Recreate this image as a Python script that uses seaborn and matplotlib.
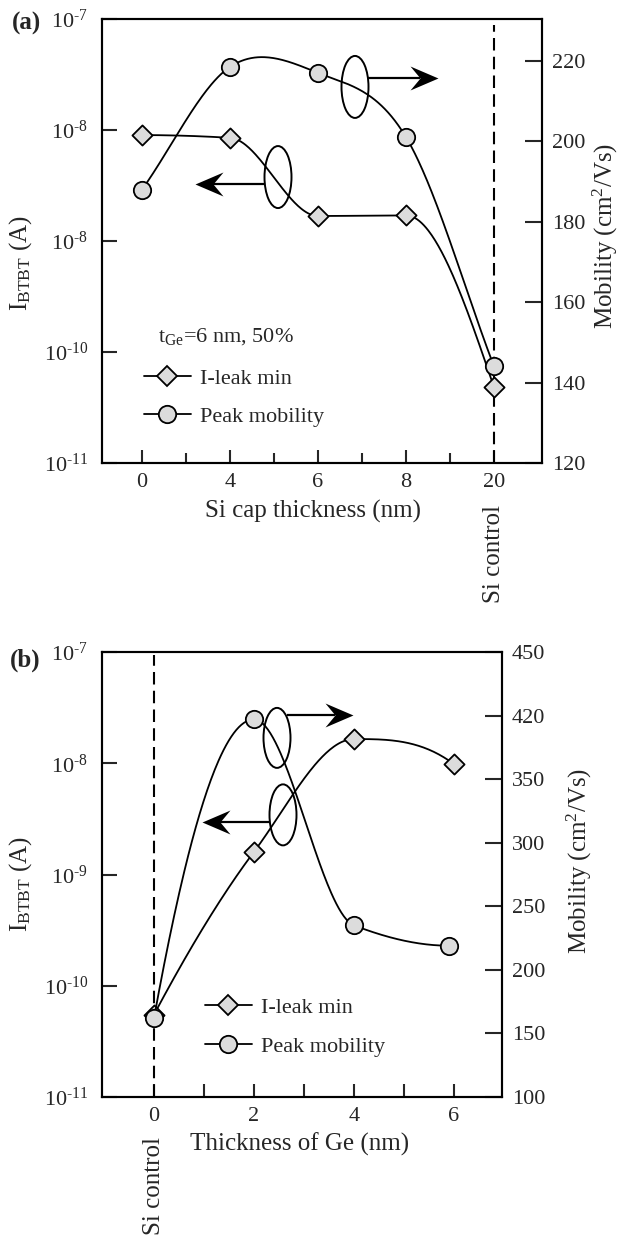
import numpy as np
import matplotlib
matplotlib.use('Agg')
import matplotlib.pyplot as plt
import matplotlib.transforms as mtransforms
import seaborn as sns
from matplotlib.patches import Ellipse
from matplotlib.lines import Line2D
from matplotlib.path import Path
from matplotlib.ticker import NullLocator

# panel (a): Si cap thickness
cap_labels = ['0', '4', '6', '8', '20']
cap_leak = [9.0e-9, 8.5e-9, 1.68e-9, 1.7e-9, 4.8e-11]
cap_mob = [188, 218.5, 217, 201, 144]

# panel (b): Ge thickness
ge_leak_x = [0, 2, 4, 6]
ge_leak = [5.5e-11, 1.6e-9, 1.65e-8, 9.8e-9]
ge_mob_x = [0, 2, 4, 5.9]
ge_mob = [162, 397, 235, 219]

leak_ticks = [1e-7, 1e-8, 1e-9, 1e-10, 1e-11]
leak_labels_a = ['7', '8', '8', '10', '11']
leak_labels_b = ['7', '8', '9', '10', '11']
mob_ticks_a = [120, 140, 160, 180, 200, 220]
mob_ticks_b = [100, 150, 200, 250, 300, 350, 400, 450]
mob_labels_b = ['100', '150', '200', '250', '300', '350', '420', '450']

sns.set_style('ticks')
plt.rcParams['font.family'] = ['Liberation Serif', 'DejaVu Serif']
plt.rcParams['mathtext.fontset'] = 'custom'
plt.rcParams['mathtext.rm'] = 'Liberation Serif'
plt.rcParams['mathtext.it'] = 'Liberation Serif:italic'

FILL = '#dcdcdc'
LW = 1.3
W, H = 627, 1236


def smooth(x, y, kind='pchip', n=80):
    # cubic hermite curve through the points (only for drawing the line)
    x = np.asarray(x, float)
    y = np.asarray(y, float)
    h = np.diff(x)
    d = np.diff(y) / h
    m = np.zeros_like(y)
    if kind == 'pchip':
        for i in range(1, len(x) - 1):
            if d[i - 1] * d[i] > 0:
                w1 = 2 * h[i] + h[i - 1]
                w2 = h[i] + 2 * h[i - 1]
                m[i] = (w1 + w2) / (w1 / d[i - 1] + w2 / d[i])
        for e, (hh0, hh1, d0, d1) in [(0, (h[0], h[1], d[0], d[1])),
                                      (-1, (h[-1], h[-2], d[-1], d[-2]))]:
            v = ((2 * hh0 + hh1) * d0 - hh0 * d1) / (hh0 + hh1)
            if np.sign(v) != np.sign(d0):
                v = 0
            elif np.sign(d0) != np.sign(d1) and abs(v) > 3 * abs(d0):
                v = 3 * d0
            m[e] = v
    else:
        m[1:-1] = (y[2:] - y[:-2]) / (x[2:] - x[:-2])
        m[0] = d[0]
        m[-1] = d[-1]
    xs, ys = [], []
    for i in range(len(x) - 1):
        t = np.linspace(0, 1, n)
        h00 = 2 * t**3 - 3 * t**2 + 1
        h10 = t**3 - 2 * t**2 + t
        h01 = -2 * t**3 + 3 * t**2
        h11 = t**3 - t**2
        xs.append(x[i] + t * h[i])
        ys.append(h00 * y[i] + h10 * h[i] * m[i] + h01 * y[i + 1] + h11 * h[i] * m[i + 1])
    return np.concatenate(xs), np.concatenate(ys)


def draw_series(ax, x, y, marker, size, log=False, kind='pchip'):
    yy = np.log10(y) if log else np.asarray(y, float)
    xs, ys = smooth(x, yy, kind)
    if log:
        ys = 10 ** ys
    sns.lineplot(x=xs, y=ys, ax=ax, color='k', lw=LW, sort=False,
                 estimator=None, zorder=2)
    sns.scatterplot(x=x, y=y, ax=ax, marker=marker, s=size, color=FILL,
                    edgecolor='k', linewidth=1.3, zorder=3, clip_on=False)


# concave arrow head, tip at origin, pointing right
HEAD = Path([(0, 0), (-28, 12), (-18, 0), (-28, -12), (0, 0)],
            [Path.MOVETO, Path.LINETO, Path.LINETO, Path.LINETO, Path.CLOSEPOLY])
HEAD_L = Path(HEAD.vertices * [-1, 1], HEAD.codes)


def loop_arrow(ax, center, size_px, y, x0, x1):
    wpx = ax.get_position().width * W
    hpx = ax.get_position().height * H
    ax.add_patch(Ellipse(center, size_px[0] / wpx, size_px[1] / hpx,
                         transform=ax.transAxes, fill=False, ec='k', lw=1.4,
                         zorder=4))
    direction = 1 if x1 > x0 else -1
    notch = x1 - direction * 18 / wpx
    ax.plot([x0, notch], [y, y], color='k', lw=1.6, transform=ax.transAxes,
            zorder=4, solid_capstyle='butt')
    ax.plot([x1], [y], marker=HEAD if direction > 0 else HEAD_L, ms=40.3,
            color='k', mew=0, transform=ax.transAxes, zorder=4)


def style_axes(ax, ax2):
    for a in (ax, ax2):
        for s in a.spines.values():
            s.set_linewidth(1.5)
            s.set_color('k')
    ax.set_yscale('log')
    ax.set_ylim(1e-11, 1e-7)
    ax.yaxis.set_minor_locator(NullLocator())
    ax.tick_params(axis='y', which='major', direction='in', length=10.5,
                   width=1.5, pad=10, labelsize=16, right=False)
    ax.tick_params(axis='x', which='major', direction='in', length=9.5,
                   width=1.5, pad=7, labelsize=16, top=False)
    ax.tick_params(axis='x', which='minor', direction='in', length=7,
                   width=1.5, top=False)
    ax2.tick_params(axis='y', which='major', direction='in', length=12.5,
                    width=1.5, pad=7, labelsize=16, left=False)
    ax2.yaxis.set_minor_locator(NullLocator())


def leak_label(s):
    return '$\\mathregular{10^{\u2010%s}}$' % s


legend_handles = [
    Line2D([], [], color='k', lw=LW, marker='D', markersize=10.2,
           mfc=FILL, mec='k', mew=1.3),
    Line2D([], [], color='k', lw=LW, marker='o', markersize=12.5,
           mfc=FILL, mec='k', mew=1.3),
]
legend_names = ['I-leak min', 'Peak mobility']

fig = plt.figure(figsize=(W / 100, H / 100), dpi=100)

# ---------------- (a)
ax = fig.add_axes([102 / W, 1 - 463 / H, 440 / W, 444 / H])
ax2 = ax.twinx()
pos = np.arange(len(cap_labels))
draw_series(ax, pos, cap_leak, 'D', 105, log=True)
draw_series(ax2, pos, cap_mob, 'o', 156, kind='cr')
ax.set_xlim(-0.455, 4.545)
ax2.set_ylim(120, 230.4)
style_axes(ax, ax2)
ax.set_xticks(pos, cap_labels)
ax.set_xticks(pos[:-1] + 0.5, minor=True)
ax.set_yticks(leak_ticks, [leak_label(s) for s in leak_labels_a])
ax2.set_yticks(mob_ticks_a, [str(v) for v in mob_ticks_a])
ax.axvline(pos[-1], ymax=0.986, color='k', lw=1.5, dashes=(6, 3), zorder=1)

ax.set_xlabel('Si cap thickness (nm)', fontsize=18)
ax.xaxis.set_label_coords(0.48, -0.083)
ax.set_ylabel(r'$\mathregular{I_{BTBT}}$ (A)', fontsize=18)
ax.yaxis.set_label_coords(-0.155, 0.45)
ax2.set_ylabel(r'Mobility (cm$\mathregular{^2}$/Vs)', fontsize=18)
ax2.yaxis.set_label_coords(1.11, 0.511)
ax.text(pos[-1], -0.095, 'Si control', rotation=90, ha='center', va='top',
        fontsize=18,
        transform=mtransforms.blended_transform_factory(ax.transData, ax.transAxes))
ax.text(0.127, 0.284, r'$\mathregular{t_{Ge}}$=6 nm, 50%', fontsize=16,
        transform=ax.transAxes, va='center', ha='left')
ax2.legend(legend_handles, legend_names, loc='center left',
           bbox_to_anchor=(0.0955, 0.1475), frameon=False, fontsize=16,
           borderpad=0, borderaxespad=0, handlelength=2.1, handletextpad=0.4,
           labelspacing=0.8)
loop_arrow(ax2, (0.4, 0.644), (27, 62), 0.628, 0.37, 0.211)
loop_arrow(ax2, (0.575, 0.847), (27, 62), 0.867, 0.605, 0.764)
fig.text(12 / W, 1 - 23 / H, '(a)', fontsize=18, fontweight='bold',
         va='center', ha='left')

# ---------------- (b)
bx = fig.add_axes([102 / W, 1 - 1097 / H, 400 / W, 445 / H])
bx2 = bx.twinx()
draw_series(bx, ge_leak_x, ge_leak, 'D', 105, log=True)
draw_series(bx2, ge_mob_x, ge_mob, 'o', 156)
bx.set_xlim(-1.04, 6.96)
bx2.set_ylim(100, 450)
style_axes(bx, bx2)
bx.set_xticks([0, 2, 4, 6], ['0', '2', '4', '6'])
bx.set_xticks([1, 3, 5], minor=True)
bx.tick_params(axis='x', which='minor', length=9.5)
bx.set_yticks(leak_ticks, [leak_label(s) for s in leak_labels_b])
bx2.set_yticks(mob_ticks_b, mob_labels_b)
bx.axvline(0, ymax=0.993, color='k', lw=1.5, dashes=(6, 3), zorder=1)

bx.set_xlabel('Thickness of Ge (nm)', fontsize=18)
bx.xaxis.set_label_coords(0.495, -0.08)
bx.set_ylabel(r'$\mathregular{I_{BTBT}}$ (A)', fontsize=18)
bx.yaxis.set_label_coords(-0.17, 0.479)
bx2.set_ylabel(r'Mobility (cm$\mathregular{^2}$/Vs)', fontsize=18)
bx2.yaxis.set_label_coords(1.1575, 0.53)
bx.text(0, -0.09, 'Si control', rotation=90, ha='center', va='top', fontsize=18,
        transform=mtransforms.blended_transform_factory(bx.transData, bx.transAxes))
bx2.legend(legend_handles, legend_names, loc='center left',
           bbox_to_anchor=(0.2575, 0.157), frameon=False, fontsize=16,
           borderpad=0, borderaxespad=0, handlelength=2.1, handletextpad=0.4,
           labelspacing=0.8)
loop_arrow(bx2, (0.4525, 0.634), (27, 61), 0.618, 0.42, 0.25)
loop_arrow(bx2, (0.4375, 0.807), (27, 60), 0.858, 0.4625, 0.6275)
fig.text(10 / W, 1 - 660 / H, '(b)', fontsize=18, fontweight='bold',
         va='center', ha='left')

fig.savefig('out.png', dpi=100, facecolor='white')
